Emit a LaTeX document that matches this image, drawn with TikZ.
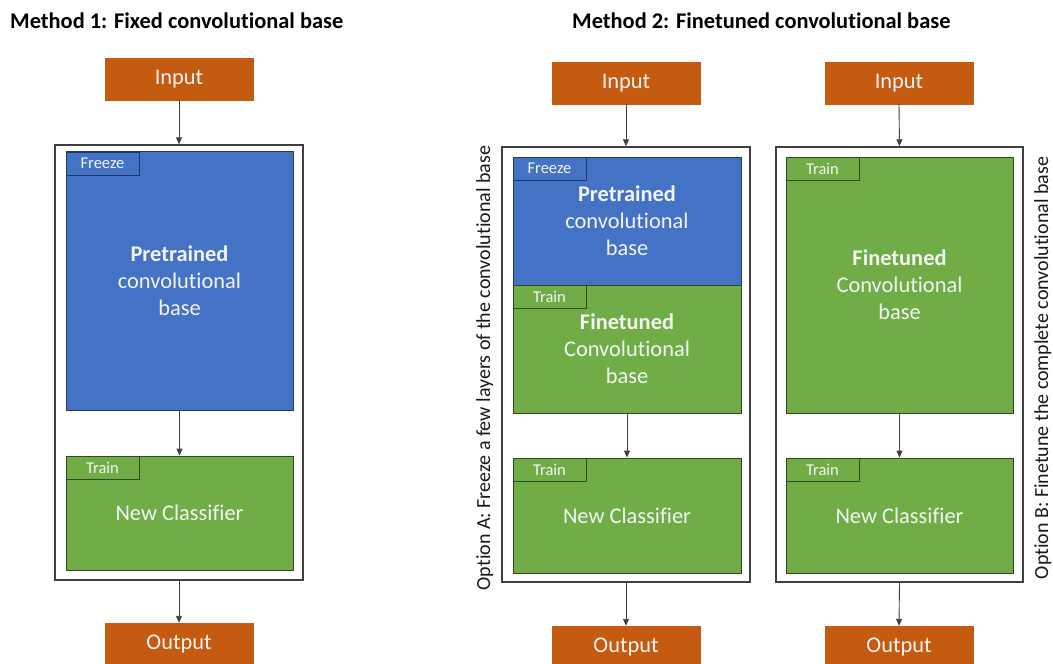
\documentclass[tikz,border=0pt]{standalone}
\usepackage{fontspec}
\setmainfont[RawFeature=-liga]{Carlito}
\usetikzlibrary{arrows.meta}
\definecolor{orng}{HTML}{C55A11}
\definecolor{blu}{HTML}{4472C4}
\definecolor{blubd}{HTML}{1F3864}
\definecolor{grn}{HTML}{70AD47}
\definecolor{grnbd}{HTML}{2E4A1E}
\definecolor{frame}{HTML}{404040}
\definecolor{txt}{HTML}{F4F4F4}
\tikzset{
  io/.style={fill=orng, draw=orng, minimum width=148pt, minimum height=42pt, inner sep=0pt,
    text=txt, font=\fontsize{22.4}{27}\selectfont},
  outerbox/.style={draw=frame, line width=1.4pt, fill=white, minimum width=248pt, minimum height=435pt, inner sep=0pt},
  bluebox/.style={fill=blu, draw=blubd, line width=0.9pt, inner sep=0pt, text=txt, align=center,
    font=\fontsize{22.4}{27}\selectfont},
  greenbox/.style={fill=grn, draw=grnbd, line width=0.9pt, inner sep=0pt, text=txt, align=center,
    font=\fontsize{22.4}{27}\selectfont},
  freezetag/.style={bluebox, minimum width=73pt, minimum height=23pt, font=\fontsize{16.5}{18}\selectfont},
  traintag/.style={greenbox, minimum width=73pt, minimum height=23pt, font=\fontsize{16.5}{18}\selectfont},
  title/.style={font=\fontsize{22.4}{26}\selectfont\bfseries, anchor=base west, inner sep=0pt},
  sidetext/.style={font=\fontsize{20}{24}\selectfont, rotate=90, anchor=base, inner sep=0pt, text=black!90},
  arr/.style={draw=frame, line width=0.9pt, -{Triangle[width=6pt,length=7pt]}}
}
\begin{document}
\begin{tikzpicture}[x=1pt,y=-1pt]
\useasboundingbox (0,0) rectangle (1053,664);
\clip (0,0) rectangle (1053,664);
\fill[white] (0,0) rectangle (1053,664);

% titles
\node[title] (t1) at (10,28) {Method 1: Fixed convolutional base};
\node[title] (t2) at (572,28) {Method 2: Finetuned convolutional base};

% ---------- Method 1 ----------
\node[io] (in1) at (179,79) {Input};
\node[outerbox] (outer1) at (179,362.5) {};
\node[bluebox, minimum width=227pt, minimum height=259pt] (pre1) at (179.5,281) {\textbf{Pretrained}\\convolutional\\base};
\node[freezetag] (f1) at (102.5,163.5) {Freeze};
\node[greenbox, minimum width=227pt, minimum height=114pt] (cls1) at (179.5,513) {New Classifier};
\node[traintag] (tr1) at (102.5,467.5) {Train};
\node[io] (out1) at (179,644) {Output};
\draw[arr] (in1.south) -- (outer1.north);
\draw[arr] (pre1.south) -- (cls1.north);
\draw[arr] (outer1.south) -- (out1.north);

% ---------- Option A ----------
\node[io] (inA) at (626,83) {Input};
\node[outerbox] (outerA) at (626,364.5) {};
\node[bluebox, minimum width=228pt, minimum height=128pt] (preA) at (627,221) {\textbf{Pretrained}\\convolutional\\base};
\node[freezetag] (fA) at (549.5,168.5) {Freeze};
\node[greenbox, minimum width=228pt, minimum height=128pt] (ftA) at (627,349) {\textbf{Finetuned}\\Convolutional\\base};
\node[traintag] (tA1) at (549.5,296.5) {Train};
\node[greenbox, minimum width=228pt, minimum height=115pt] (clsA) at (627,515.5) {New Classifier};
\node[traintag] (tA2) at (549.5,469.5) {Train};
\node[io] (outA) at (626,647) {Output};
\draw[arr] (inA.south) -- (outerA.north);
\draw[arr] (ftA.south) -- (clsA.north);
\draw[arr] (outerA.south) -- (outA.north);
\node[sidetext] (sA) at (490,368) {Option A: Freeze a few layers of the convolutional base};

% ---------- Option B ----------
\node[io] (inB) at (899,83) {Input};
\node[outerbox, minimum width=247pt] (outerB) at (899.5,364.5) {};
\node[greenbox, minimum width=227pt, minimum height=256pt] (ftB) at (899.5,285) {\textbf{Finetuned}\\Convolutional\\base};
\node[traintag] (tB1) at (822.5,168.5) {Train};
\node[greenbox, minimum width=227pt, minimum height=115pt] (clsB) at (899.5,515.5) {New Classifier};
\node[traintag] (tB2) at (822.5,469.5) {Train};
\node[io] (outB) at (899,647) {Output};
\draw[arr] (inB.south) -- (outerB.north);
\draw[arr] (ftB.south) -- (clsB.north);
\draw[arr] (outerB.south) -- (outB.north);
\node[sidetext] (sB) at (1048,368) {Option B: Finetune the complete convolutional base};
\end{tikzpicture}
\end{document}
